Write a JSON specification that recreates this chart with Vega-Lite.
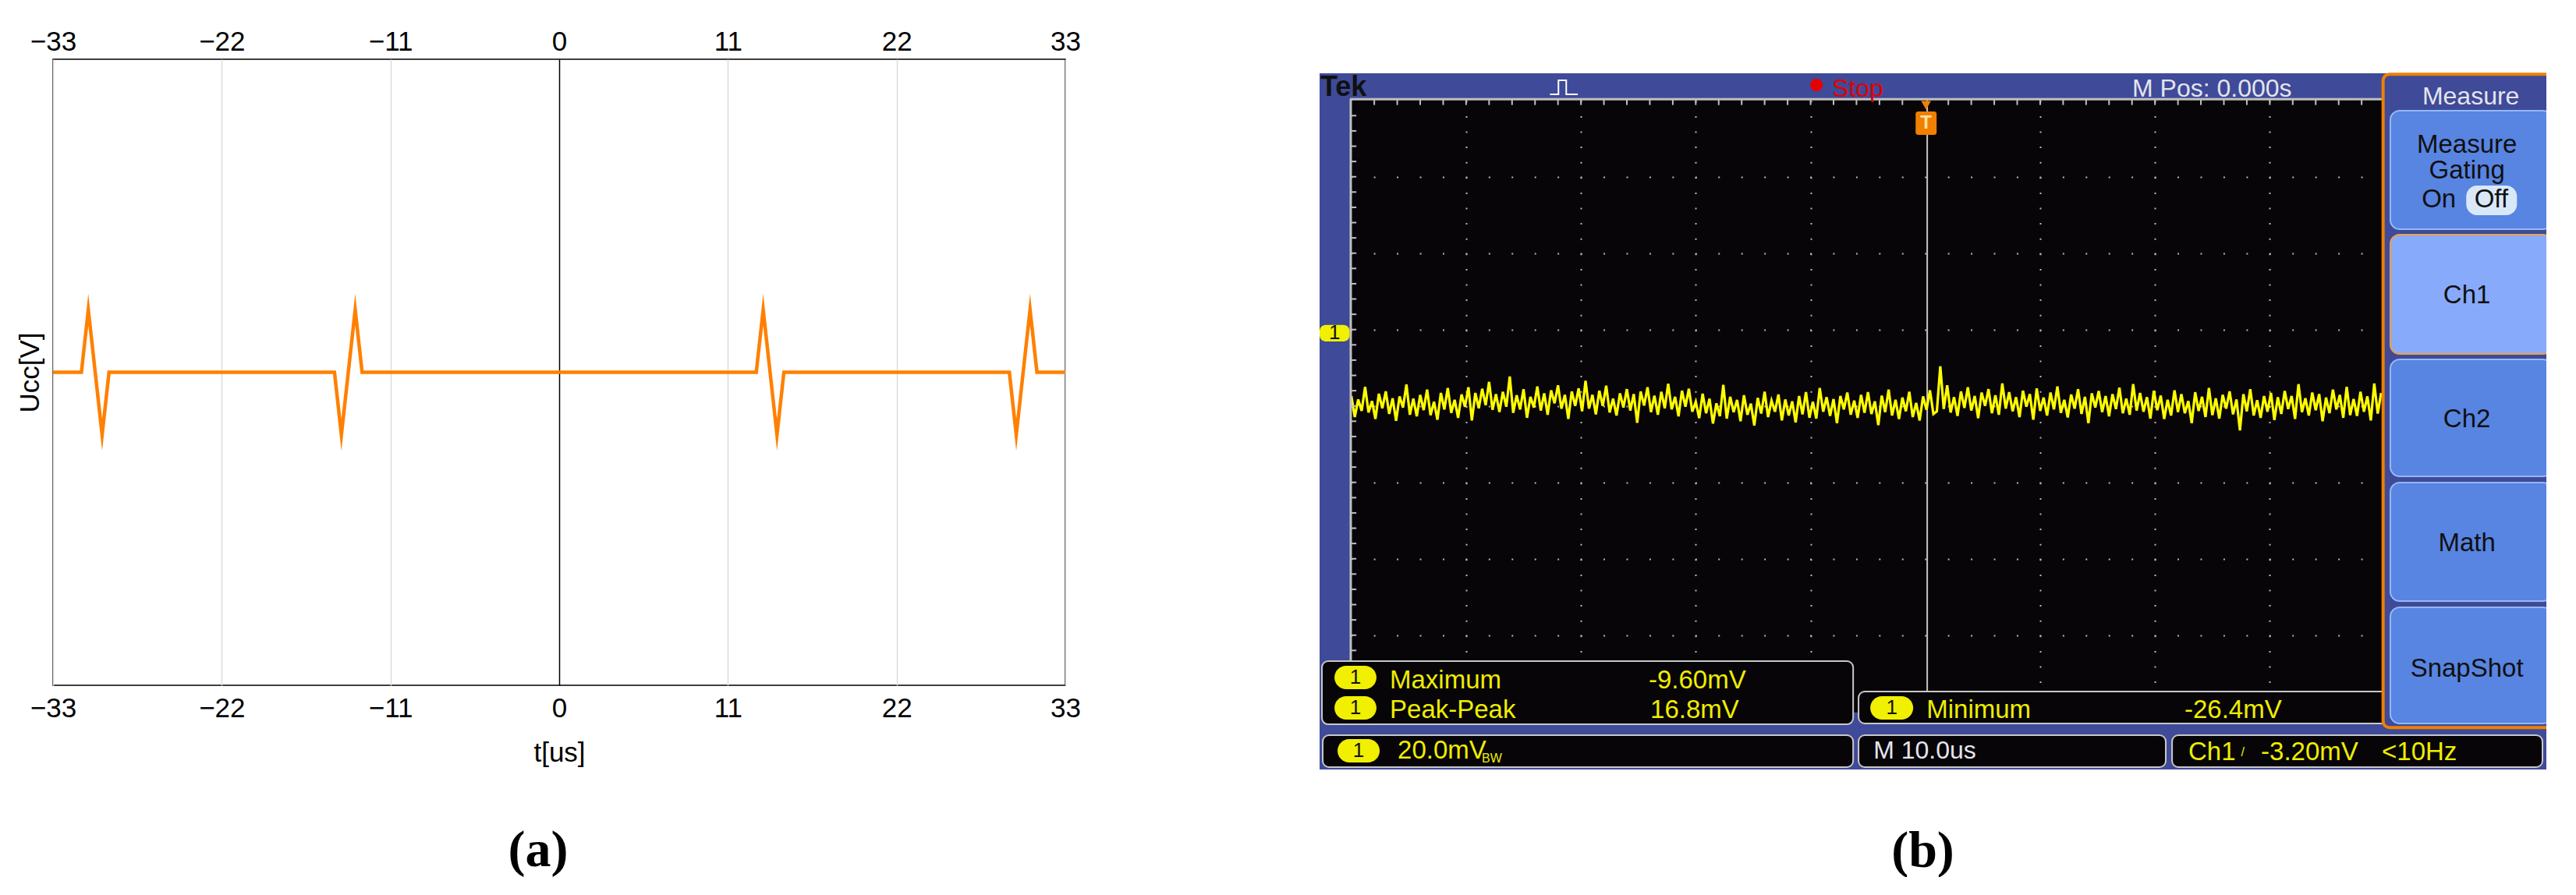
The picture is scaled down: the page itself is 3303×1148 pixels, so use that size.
{
"$schema": "https://vega.github.io/schema/vega-lite/v6.json",
"background": "white",
"padding": {"left": 20, "top": 35, "right": 0, "bottom": 0},
"bounds": "flush",
"spacing": 326,
"config": {"font": "Liberation Sans", "view": {"stroke": null}, "axis": {"labelColor": "#000000", "titleColor": "#000000"}},
"datasets": {
"pulse": [{"t":-33,"u":0},{"t":-31.15,"u":0},{"t":-30.7,"u":0.2},{"t":-29.8,"u":-0.2},{"t":-29.35,"u":0},{"t":-14.65,"u":0},{"t":-14.2,"u":-0.2},{"t":-13.3,"u":0.2},{"t":-12.85,"u":0},{"t":12.85,"u":0},{"t":13.3,"u":0.2},{"t":14.2,"u":-0.2},{"t":14.65,"u":0},{"t":29.35,"u":0},{"t":29.8,"u":-0.2},{"t":30.7,"u":0.2},{"t":31.15,"u":0},{"t":33,"u":0}],
"bframe": [{"x":-52.765,"x2":54.09,"y":60.35,"y2":67.08},{"x":-52.765,"x2":-50.12,"y":-115.16,"y2":67.08},{"x":-52.765,"x2":54.09,"y":-115.16,"y2":-100.2},{"x":39.76,"x2":54.09,"y":-115.16,"y2":67.08}],
"bwhite": [{"x":-52.765,"x2":54.09,"y":67.08,"y2":70.76}],
"bcenter": [{"x":0.16,"y":60,"y2":-94.76}],
"bborder": [{"x":-50.12,"x2":39.76,"y":60.3,"y2":60.3},{"x":-50.05,"x2":-50.05,"y":60.3,"y2":-100.2}],
"btopticks": [{"x":-48,"y":59.5},{"x":-46,"y":59.5},{"x":-44,"y":59.5},{"x":-42,"y":59.5},{"x":-40,"y":59.5},{"x":-38,"y":59.5},{"x":-36,"y":59.5},{"x":-34,"y":59.5},{"x":-32,"y":59.5},{"x":-30,"y":59.5},{"x":-28,"y":59.5},{"x":-26,"y":59.5},{"x":-24,"y":59.5},{"x":-22,"y":59.5},{"x":-20,"y":59.5},{"x":-18,"y":59.5},{"x":-16,"y":59.5},{"x":-14,"y":59.5},{"x":-12,"y":59.5},{"x":-10,"y":59.5},{"x":-8,"y":59.5},{"x":-6,"y":59.5},{"x":-4,"y":59.5},{"x":-2,"y":59.5},{"x":2,"y":59.5},{"x":4,"y":59.5},{"x":6,"y":59.5},{"x":8,"y":59.5},{"x":10,"y":59.5},{"x":12,"y":59.5},{"x":14,"y":59.5},{"x":16,"y":59.5},{"x":18,"y":59.5},{"x":20,"y":59.5},{"x":22,"y":59.5},{"x":24,"y":59.5},{"x":26,"y":59.5},{"x":28,"y":59.5},{"x":30,"y":59.5},{"x":32,"y":59.5},{"x":34,"y":59.5},{"x":36,"y":59.5},{"x":38,"y":59.5}],
"bleftticks": [{"x":-49.8,"y":56},{"x":-49.8,"y":52},{"x":-49.8,"y":48},{"x":-49.8,"y":44},{"x":-49.8,"y":40},{"x":-49.8,"y":36},{"x":-49.8,"y":32},{"x":-49.8,"y":28},{"x":-49.8,"y":24},{"x":-49.8,"y":20},{"x":-49.8,"y":16},{"x":-49.8,"y":12},{"x":-49.8,"y":8},{"x":-49.8,"y":4},{"x":-49.8,"y":0},{"x":-49.8,"y":-4},{"x":-49.8,"y":-8},{"x":-49.8,"y":-12},{"x":-49.8,"y":-16},{"x":-49.8,"y":-20},{"x":-49.8,"y":-24},{"x":-49.8,"y":-28},{"x":-49.8,"y":-32},{"x":-49.8,"y":-36},{"x":-49.8,"y":-40},{"x":-49.8,"y":-44},{"x":-49.8,"y":-48},{"x":-49.8,"y":-52},{"x":-49.8,"y":-56},{"x":-49.8,"y":-60},{"x":-49.8,"y":-64},{"x":-49.8,"y":-68},{"x":-49.8,"y":-72},{"x":-49.8,"y":-76},{"x":-49.8,"y":-80},{"x":-49.8,"y":-84}],
"trace": [{"x":-50.0,"y":-17.4},{"x":-49.7,"y":-22.9},{"x":-49.4,"y":-18.3},{"x":-49.1,"y":-21.3},{"x":-48.8,"y":-15.0},{"x":-48.5,"y":-21.7},{"x":-48.2,"y":-18.7},{"x":-47.9,"y":-23.4},{"x":-47.6,"y":-16.8},{"x":-47.3,"y":-20.6},{"x":-47.0,"y":-16.2},{"x":-46.7,"y":-22.1},{"x":-46.4,"y":-18.0},{"x":-46.1,"y":-23.9},{"x":-45.8,"y":-17.5},{"x":-45.5,"y":-20.4},{"x":-45.2,"y":-14.4},{"x":-44.9,"y":-22.3},{"x":-44.6,"y":-18.1},{"x":-44.3,"y":-22.7},{"x":-44.0,"y":-17.1},{"x":-43.7,"y":-21.1},{"x":-43.4,"y":-15.7},{"x":-43.1,"y":-22.4},{"x":-42.8,"y":-18.9},{"x":-42.5,"y":-23.6},{"x":-42.2,"y":-16.6},{"x":-41.9,"y":-20.9},{"x":-41.6,"y":-15.3},{"x":-41.3,"y":-21.8},{"x":-41.0,"y":-18.4},{"x":-40.7,"y":-23.1},{"x":-40.4,"y":-17.0},{"x":-40.1,"y":-20.2},{"x":-39.8,"y":-15.1},{"x":-39.5,"y":-23.8},{"x":-39.2,"y":-16.6},{"x":-38.9,"y":-20.6},{"x":-38.6,"y":-15.5},{"x":-38.3,"y":-19.8},{"x":-38.0,"y":-13.7},{"x":-37.7,"y":-21.0},{"x":-37.4,"y":-16.9},{"x":-37.1,"y":-21.6},{"x":-36.8,"y":-16.3},{"x":-36.5,"y":-20.2},{"x":-36.2,"y":-12.3},{"x":-35.9,"y":-21.8},{"x":-35.6,"y":-17.2},{"x":-35.3,"y":-20.9},{"x":-35.0,"y":-15.6},{"x":-34.7,"y":-23.1},{"x":-34.4,"y":-17.6},{"x":-34.1,"y":-20.4},{"x":-33.8,"y":-14.9},{"x":-33.5,"y":-21.2},{"x":-33.2,"y":-16.7},{"x":-32.9,"y":-22.3},{"x":-32.6,"y":-15.9},{"x":-32.3,"y":-19.3},{"x":-32.0,"y":-14.6},{"x":-31.7,"y":-20.7},{"x":-31.4,"y":-17.1},{"x":-31.1,"y":-23.4},{"x":-30.8,"y":-16.2},{"x":-30.5,"y":-20.0},{"x":-30.2,"y":-15.4},{"x":-29.9,"y":-21.4},{"x":-29.6,"y":-13.4},{"x":-29.3,"y":-20.7},{"x":-29.0,"y":-17.1},{"x":-28.7,"y":-22.2},{"x":-28.4,"y":-16.0},{"x":-28.1,"y":-20.0},{"x":-27.8,"y":-14.7},{"x":-27.5,"y":-21.7},{"x":-27.2,"y":-18.1},{"x":-26.9,"y":-22.5},{"x":-26.6,"y":-16.7},{"x":-26.3,"y":-20.4},{"x":-26.0,"y":-15.6},{"x":-25.7,"y":-21.2},{"x":-25.4,"y":-16.9},{"x":-25.1,"y":-24.4},{"x":-24.8,"y":-16.2},{"x":-24.5,"y":-19.9},{"x":-24.2,"y":-15.1},{"x":-23.9,"y":-21.6},{"x":-23.6,"y":-17.3},{"x":-23.3,"y":-22.3},{"x":-23.0,"y":-16.3},{"x":-22.7,"y":-20.6},{"x":-22.4,"y":-14.2},{"x":-22.1,"y":-20.9},{"x":-21.8,"y":-17.6},{"x":-21.5,"y":-22.7},{"x":-21.2,"y":-16.0},{"x":-20.9,"y":-20.2},{"x":-20.6,"y":-15.5},{"x":-20.3,"y":-21.5},{"x":-20.0,"y":-18.9},{"x":-19.7,"y":-23.2},{"x":-19.4,"y":-16.8},{"x":-19.1,"y":-21.9},{"x":-18.8,"y":-18.1},{"x":-18.5,"y":-24.6},{"x":-18.2,"y":-19.3},{"x":-17.9,"y":-22.7},{"x":-17.6,"y":-14.5},{"x":-17.3,"y":-23.3},{"x":-17.0,"y":-17.6},{"x":-16.7,"y":-21.6},{"x":-16.4,"y":-18.4},{"x":-16.1,"y":-24.0},{"x":-15.8,"y":-17.2},{"x":-15.5,"y":-22.3},{"x":-15.2,"y":-19.4},{"x":-14.9,"y":-25.1},{"x":-14.6,"y":-17.9},{"x":-14.3,"y":-22.0},{"x":-14.0,"y":-16.3},{"x":-13.7,"y":-22.9},{"x":-13.4,"y":-18.6},{"x":-13.1,"y":-21.5},{"x":-12.8,"y":-17.0},{"x":-12.5,"y":-23.8},{"x":-12.2,"y":-18.3},{"x":-11.9,"y":-22.5},{"x":-11.6,"y":-18.8},{"x":-11.3,"y":-24.3},{"x":-11.0,"y":-17.4},{"x":-10.7,"y":-22.2},{"x":-10.4,"y":-16.4},{"x":-10.1,"y":-23.1},{"x":-9.8,"y":-18.9},{"x":-9.5,"y":-23.3},{"x":-9.2,"y":-15.3},{"x":-8.9,"y":-21.5},{"x":-8.6,"y":-17.7},{"x":-8.3,"y":-22.6},{"x":-8.0,"y":-18.2},{"x":-7.7,"y":-24.5},{"x":-7.4,"y":-17.4},{"x":-7.1,"y":-20.9},{"x":-6.8,"y":-16.5},{"x":-6.5,"y":-22.3},{"x":-6.2,"y":-18.6},{"x":-5.9,"y":-23.1},{"x":-5.6,"y":-17.1},{"x":-5.3,"y":-21.8},{"x":-5.0,"y":-16.4},{"x":-4.7,"y":-22.1},{"x":-4.4,"y":-18.8},{"x":-4.1,"y":-25.0},{"x":-3.8,"y":-17.3},{"x":-3.5,"y":-21.6},{"x":-3.2,"y":-15.7},{"x":-2.9,"y":-22.5},{"x":-2.6,"y":-18.4},{"x":-2.3,"y":-23.4},{"x":-2.0,"y":-17.8},{"x":-1.7,"y":-21.4},{"x":-1.4,"y":-16.3},{"x":-1.1,"y":-22.9},{"x":-0.8,"y":-19.2},{"x":-0.5,"y":-23.8},{"x":-0.2,"y":-17.5},{"x":0.1,"y":-21.0},{"x":0.4,"y":-15.9},{"x":0.7,"y":-22.1},{"x":1.0,"y":-21.4},{"x":1.3,"y":-9.6},{"x":1.6,"y":-20.8},{"x":1.9,"y":-14.6},{"x":2.2,"y":-21.7},{"x":2.5,"y":-17.7},{"x":2.8,"y":-22.6},{"x":3.1,"y":-16.2},{"x":3.4,"y":-20.5},{"x":3.7,"y":-15.1},{"x":4.0,"y":-21.2},{"x":4.3,"y":-17.4},{"x":4.6,"y":-23.2},{"x":4.9,"y":-16.5},{"x":5.2,"y":-20.0},{"x":5.5,"y":-15.6},{"x":5.8,"y":-21.9},{"x":6.1,"y":-17.2},{"x":6.4,"y":-22.3},{"x":6.7,"y":-14.1},{"x":7.0,"y":-20.7},{"x":7.3,"y":-16.4},{"x":7.6,"y":-21.4},{"x":7.9,"y":-17.7},{"x":8.2,"y":-22.9},{"x":8.5,"y":-16.0},{"x":8.8,"y":-20.2},{"x":9.1,"y":-16.9},{"x":9.4,"y":-23.6},{"x":9.7,"y":-15.4},{"x":10.0,"y":-21.3},{"x":10.3,"y":-17.8},{"x":10.6,"y":-22.5},{"x":10.9,"y":-16.5},{"x":11.2,"y":-20.9},{"x":11.5,"y":-14.9},{"x":11.8,"y":-21.8},{"x":12.1,"y":-18.4},{"x":12.4,"y":-23.0},{"x":12.7,"y":-17.0},{"x":13.0,"y":-20.7},{"x":13.3,"y":-15.6},{"x":13.6,"y":-22.1},{"x":13.9,"y":-17.6},{"x":14.2,"y":-24.5},{"x":14.5,"y":-16.7},{"x":14.8,"y":-20.4},{"x":15.1,"y":-16.1},{"x":15.4,"y":-21.6},{"x":15.7,"y":-17.4},{"x":16.0,"y":-22.7},{"x":16.3,"y":-16.9},{"x":16.6,"y":-20.8},{"x":16.9,"y":-15.2},{"x":17.2,"y":-21.9},{"x":17.5,"y":-18.1},{"x":17.8,"y":-22.3},{"x":18.1,"y":-14.3},{"x":18.4,"y":-21.2},{"x":18.7,"y":-16.6},{"x":19.0,"y":-21.5},{"x":19.3,"y":-17.7},{"x":19.6,"y":-23.3},{"x":19.9,"y":-16.0},{"x":20.2,"y":-21.1},{"x":20.5,"y":-17.3},{"x":20.8,"y":-23.4},{"x":21.1,"y":-18.4},{"x":21.4,"y":-22.5},{"x":21.7,"y":-15.9},{"x":22.0,"y":-21.6},{"x":22.3,"y":-16.9},{"x":22.6,"y":-21.9},{"x":22.9,"y":-18.7},{"x":23.2,"y":-24.5},{"x":23.5,"y":-16.4},{"x":23.8,"y":-21.3},{"x":24.1,"y":-17.6},{"x":24.4,"y":-22.9},{"x":24.7,"y":-15.3},{"x":25.0,"y":-22.4},{"x":25.3,"y":-18.0},{"x":25.6,"y":-23.3},{"x":25.9,"y":-17.1},{"x":26.2,"y":-20.7},{"x":26.5,"y":-16.2},{"x":26.8,"y":-22.2},{"x":27.1,"y":-18.3},{"x":27.4,"y":-26.4},{"x":27.7,"y":-16.9},{"x":28.0,"y":-21.4},{"x":28.3,"y":-15.6},{"x":28.6,"y":-22.5},{"x":28.9,"y":-18.5},{"x":29.2,"y":-23.1},{"x":29.5,"y":-17.4},{"x":29.8,"y":-21.5},{"x":30.1,"y":-16.6},{"x":30.4,"y":-23.7},{"x":30.7,"y":-17.7},{"x":31.0,"y":-22.1},{"x":31.3,"y":-16.1},{"x":31.6,"y":-20.8},{"x":31.9,"y":-17.4},{"x":32.2,"y":-23.4},{"x":32.5,"y":-14.3},{"x":32.8,"y":-21.6},{"x":33.1,"y":-18.0},{"x":33.4,"y":-22.5},{"x":33.7,"y":-16.5},{"x":34.0,"y":-21.1},{"x":34.3,"y":-16.9},{"x":34.6,"y":-24.0},{"x":34.9,"y":-17.8},{"x":35.2,"y":-21.9},{"x":35.5,"y":-15.7},{"x":35.8,"y":-20.9},{"x":36.1,"y":-17.1},{"x":36.4,"y":-23.1},{"x":36.7,"y":-15.0},{"x":37.0,"y":-22.4},{"x":37.3,"y":-18.2},{"x":37.6,"y":-22.6},{"x":37.9,"y":-16.3},{"x":38.2,"y":-21.5},{"x":38.5,"y":-17.5},{"x":38.8,"y":-23.8},{"x":39.1,"y":-14.1},{"x":39.4,"y":-22.0},{"x":39.7,"y":-16.6}],
"btrigbox": [{"x":-0.85,"x2":0.98,"y":50.96,"y2":57.08}],
"btrigtri": [{"x":0.06,"y":58.7}],
"btrigT": [{"x":0.06,"y":54.0,"label":"T"}],
"bground": [{"x":-52.765,"x2":-50.15,"y":-3.1,"y2":1.2}],
"bboxes": [{"x":-52.56,"x2":-6.29,"y":-103.33,"y2":-86.8},{"x":-5.82,"x2":41.0,"y":-103.12,"y2":-94.76},{"x":-52.49,"x2":-6.29,"y":-114.55,"y2":-106.18},{"x":-5.82,"x2":20.94,"y":-114.55,"y2":-106.18},{"x":21.49,"x2":53.75,"y":-114.55,"y2":-106.18}],
"bmenu": [{"x":39.87,"x2":54.6,"y":-104.2,"y2":66.85}],
"bbuttons": [{"x":40.5,"x2":54.6,"y":26.27,"y2":57.29},{"x":40.5,"x2":54.6,"y":-38.43,"y2":-7.82},{"x":40.5,"x2":54.6,"y":-71.08,"y2":-40.06},{"x":40.5,"x2":54.6,"y":-103.12,"y2":-72.71}],
"bbuttonsel": [{"x":40.5,"x2":54.6,"y":-6.39,"y2":24.84}],
"boff": [{"x":47.11,"x2":51.53,"y":29.94,"y2":37.69}],
"bpills": [{"x":-51.47,"x2":-47.81,"y":-94.14,"y2":-88.02},{"x":-51.47,"x2":-47.81,"y":-102.1,"y2":-95.98},{"x":-4.8,"x2":-1.06,"y":-102.1,"y2":-95.98},{"x":-51.2,"x2":-47.53,"y":-113.33,"y2":-107.2}],
"bpilllbl": [{"x":-49.64,"y":-91.08,"label":"1"},{"x":-49.64,"y":-99.04,"label":"1"},{"x":-2.93,"y":-99.04,"label":"1"},{"x":-49.37,"y":-110.27,"label":"1"},{"x":-51.45,"y":-0.95,"label":"1"}],
"byellow": [{"x":-46.65,"y":-93.94,"label":"Maximum"},{"x":-24.1,"y":-93.94,"label":"-9.60mV"},{"x":-46.65,"y":-101.69,"label":"Peak-Peak"},{"x":-23.96,"y":-101.69,"label":"16.8mV"},{"x":0.1,"y":-101.69,"label":"Minimum"},{"x":22.57,"y":-101.69,"label":"-26.4mV"},{"x":-45.97,"y":-112.31,"label":"20.0mV"},{"x":22.91,"y":-112.8,"label":"Ch1"},{"x":29.23,"y":-112.8,"label":"-3.20mV"},{"x":39.76,"y":-112.8,"label":"<10Hz"}],
"bysmall": [{"x":-38.63,"y":-113.33,"label":"BW"},{"x":27.5,"y":-111.6,"label":"/"}],
"bwhitetxt": [{"x":18.02,"y":60.96,"label":"M Pos: 0.000s"},{"x":-4.52,"y":-112.31,"label":"M 10.0us"}],
"bred": [{"x":-8.13,"y":60.96,"label":"Stop"}],
"breddot": [{"x":-9.48,"y":64.0}],
"bmenutitle": [{"x":47.51,"y":58.92,"label":"Measure"}],
"bblack": [{"x":47.17,"y":46.27,"label":"Measure"},{"x":47.17,"y":39.53,"label":"Gating"},{"x":44.73,"y":31.98,"label":"On"},{"x":49.29,"y":31.98,"label":"Off"},{"x":47.17,"y":6.92,"label":"Ch1"},{"x":47.17,"y":-25.53,"label":"Ch2"},{"x":47.17,"y":-58.02,"label":"Math"},{"x":47.17,"y":-90.9,"label":"SnapShot"}],
"btek": [{"x":-52.7,"y":61.16,"label":"Tek"}],
"bicon": [{"i":0,"x":-32.7,"y":61.57},{"i":1,"x":-31.96,"y":61.57},{"i":2,"x":-31.96,"y":65.24},{"i":3,"x":-31.28,"y":65.24},{"i":4,"x":-31.28,"y":61.57},{"i":5,"x":-30.27,"y":61.57}]
},
"hconcat": [
{
"width": 1298, "height": 803,
"view": {"stroke": "#000000", "strokeWidth": 1.5, "fill": "#ffffff"},
"title": {"text": "(a)", "orient": "bottom", "anchor": "middle", "frame": "group", "dx": -27, "offset": 76, "fontSize": 66, "font": "Liberation Serif", "fontWeight": "bold", "color": "#000000"},
"data": {"name": "pulse"},
"encoding": {
"y": {"field": "u", "type": "quantitative", "scale": {"domain": [-1, 1], "nice": false, "zero": false}, "axis": {"title": "Ucc[V]", "labels": false, "ticks": false, "domain": false, "grid": false, "titleFontSize": 35, "titleFontWeight": "normal", "titlePadding": 12}}
},
"layer": [
{"mark": {"type": "line", "color": "#ff8000", "strokeWidth": 4.5, "strokeJoin": "miter", "strokeMiterLimit": 10},
"encoding": {"x": {"field": "t", "type": "quantitative", "scale": {"domain": [-33, 33], "nice": false, "zero": false}, "axis": {"orient": "bottom", "values": [-33,-22,-11,0,11,22,33], "title": "t[us]", "grid": true, "gridColor": {"condition": {"test": "datum.value === 0", "value": "#000000"}, "value": "#dcdcdc"}, "gridWidth": 1.5, "domain": false, "ticks": false, "labelFontSize": 35, "labelPadding": 12, "labelFlush": false, "labelOverlap": false, "titleFontSize": 35, "titleFontWeight": "normal", "titlePadding": 22}}}},
{"mark": {"type": "line", "opacity": 0},
"encoding": {"x": {"field": "t", "type": "quantitative", "scale": {"domain": [-33, 33], "nice": false, "zero": false}, "axis": {"orient": "top", "values": [-33,-22,-11,0,11,22,33], "title": null, "grid": false, "domain": false, "ticks": false, "labelFontSize": 35, "labelPadding": 5, "labelFlush": false, "labelOverlap": false}}}}
],
"resolve": {"axis": {"x": "independent"}}
},
{
"width": 1573, "height": 911,
"view": {"fill": "#080508", "stroke": null},
"title": {"text": "(b)", "orient": "bottom", "anchor": "middle", "frame": "group", "dx": -13, "offset": 73, "fontSize": 66, "font": "Liberation Serif", "fontWeight": "bold", "color": "#000000"},
"encoding": {
"x": {"field": "x", "type": "quantitative", "scale": {"domain": [-52.765, 54.09], "nice": false, "zero": false}, "axis": {"orient": "bottom", "values": [-40,-30,-20,-10,10,20,30], "grid": true, "gridColor": "#b8b8b8", "gridWidth": 2, "gridDash": [2, 17.6], "gridDashOffset": 6, "domain": false, "ticks": false, "labels": false, "title": null}},
"y": {"field": "y", "type": "quantitative", "scale": {"domain": [-115.16, 70.76], "nice": false, "zero": false}, "axis": {"orient": "left", "values": [40,20,0,-20,-40,-60,-80], "grid": true, "gridColor": "#b8b8b8", "gridWidth": 2, "gridDash": [2, 27.44], "gridDashOffset": 19.18, "domain": false, "ticks": false, "labels": false, "title": null}}
},
"layer": [
{"data": {"name": "bcenter"}, "mark": {"type": "rule", "color": "#c4c4c4", "strokeWidth": 2}, "encoding": {"y2": {"field": "y2"}}},
{"data": {"name": "trace"}, "mark": {"type": "line", "color": "#ffff00", "strokeWidth": 3.2}, "encoding": {}},
{"data": {"name": "bframe"}, "mark": {"type": "rect", "color": "#3f4a98"}, "encoding": {"x2": {"field": "x2"}, "y2": {"field": "y2"}}},
{"data": {"name": "bwhite"}, "mark": {"type": "rect", "color": "#ffffff"}, "encoding": {"x2": {"field": "x2"}, "y2": {"field": "y2"}}},
{"data": {"name": "bborder"}, "mark": {"type": "rule", "color": "#c0c0c0", "strokeWidth": 3}, "encoding": {"x2": {"field": "x2"}, "y2": {"field": "y2"}}},
{"data": {"name": "btopticks"}, "mark": {"type": "tick", "orient": "vertical", "size": 7, "thickness": 2, "color": "#c0c0c0", "opacity": 1}},
{"data": {"name": "bleftticks"}, "mark": {"type": "tick", "orient": "horizontal", "size": 7, "thickness": 2, "color": "#c0c0c0", "opacity": 1}},
{"data": {"name": "btrigbox"}, "mark": {"type": "rect", "color": "#f08000", "cornerRadius": 3}, "encoding": {"x2": {"field": "x2"}, "y2": {"field": "y2"}}},
{"data": {"name": "btrigtri"}, "mark": {"type": "point", "shape": "triangle-down", "filled": true, "size": 160, "color": "#f08000", "opacity": 1}},
{"data": {"name": "btrigT"}, "mark": {"type": "text", "align": "center", "baseline": "middle", "fontSize": 24, "fontWeight": "bold", "color": "#ffe0a0"}, "encoding": {"text": {"field": "label"}}},
{"data": {"name": "bground"}, "mark": {"type": "rect", "color": "#f0f000", "cornerRadius": 8}, "encoding": {"x2": {"field": "x2"}, "y2": {"field": "y2"}}},
{"data": {"name": "bboxes"}, "mark": {"type": "rect", "fill": "#080508", "stroke": "#c8c8c8", "strokeWidth": 2, "cornerRadius": 8}, "encoding": {"x2": {"field": "x2"}, "y2": {"field": "y2"}}},
{"data": {"name": "bmenu"}, "mark": {"type": "rect", "fill": "#3f4a98", "stroke": "#f08000", "strokeWidth": 4, "cornerRadius": 8, "clip": true}, "encoding": {"x2": {"field": "x2"}, "y2": {"field": "y2"}}},
{"data": {"name": "bbuttons"}, "mark": {"type": "rect", "fill": "#5884e2", "stroke": "#94b8f8", "strokeWidth": 2, "cornerRadius": 12, "clip": true}, "encoding": {"x2": {"field": "x2"}, "y2": {"field": "y2"}}},
{"data": {"name": "bbuttonsel"}, "mark": {"type": "rect", "fill": "#88aafa", "stroke": "#f0a040", "strokeWidth": 2, "cornerRadius": 12, "clip": true}, "encoding": {"x2": {"field": "x2"}, "y2": {"field": "y2"}}},
{"data": {"name": "boff"}, "mark": {"type": "rect", "color": "#d8e8f8", "cornerRadius": 14}, "encoding": {"x2": {"field": "x2"}, "y2": {"field": "y2"}}},
{"data": {"name": "bpills"}, "mark": {"type": "rect", "color": "#f0f000", "cornerRadius": 15}, "encoding": {"x2": {"field": "x2"}, "y2": {"field": "y2"}}},
{"data": {"name": "bpilllbl"}, "mark": {"type": "text", "align": "center", "baseline": "middle", "fontSize": 26, "color": "#101010"}, "encoding": {"text": {"field": "label"}}},
{"data": {"name": "byellow"}, "mark": {"type": "text", "align": "left", "baseline": "alphabetic", "fontSize": 33, "color": "#eeee00"}, "encoding": {"text": {"field": "label"}}},
{"data": {"name": "bysmall"}, "mark": {"type": "text", "align": "left", "baseline": "alphabetic", "fontSize": 16, "color": "#eeee00"}, "encoding": {"text": {"field": "label"}}},
{"data": {"name": "bwhitetxt"}, "mark": {"type": "text", "align": "left", "baseline": "alphabetic", "fontSize": 32, "color": "#e4e4ee"}, "encoding": {"text": {"field": "label"}}},
{"data": {"name": "bred"}, "mark": {"type": "text", "align": "left", "baseline": "alphabetic", "fontSize": 32, "color": "#e00000"}, "encoding": {"text": {"field": "label"}}},
{"data": {"name": "breddot"}, "mark": {"type": "point", "shape": "circle", "filled": true, "size": 260, "color": "#e80000", "opacity": 1}},
{"data": {"name": "bmenutitle"}, "mark": {"type": "text", "align": "center", "baseline": "alphabetic", "fontSize": 32, "color": "#e4e4ee"}, "encoding": {"text": {"field": "label"}}},
{"data": {"name": "bblack"}, "mark": {"type": "text", "align": "center", "baseline": "alphabetic", "fontSize": 33, "color": "#101010"}, "encoding": {"text": {"field": "label"}}},
{"data": {"name": "btek"}, "mark": {"type": "text", "align": "left", "baseline": "alphabetic", "fontSize": 36, "fontWeight": "bold", "color": "#101010"}, "encoding": {"text": {"field": "label"}}},
{"data": {"name": "bicon"}, "mark": {"type": "line", "color": "#ffffff", "strokeWidth": 2}, "encoding": {"order": {"field": "i", "type": "quantitative"}}}
]
}
]
}
